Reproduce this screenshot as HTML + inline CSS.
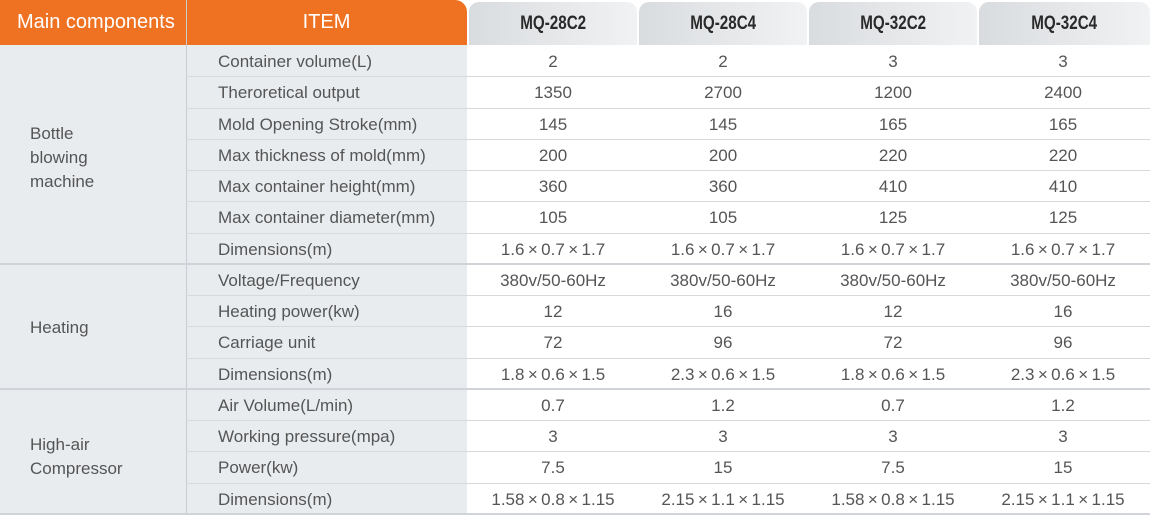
<!DOCTYPE html>
<html><head><meta charset="utf-8"><style>
*{margin:0;padding:0;box-sizing:border-box}
body{width:1150px;height:516px;background:#fff;position:relative;overflow:hidden;font-family:"Liberation Sans",Arial,sans-serif;color:#555}
.a{position:absolute}
.hdr{top:0;height:45px;background:#ef7222;left:0;width:467px;border-top-right-radius:12px}
.hd{color:#fff;font-size:20px;top:11px}
.tab{top:2px;height:43px;border-radius:10px 10px 0 0;background:linear-gradient(90deg,#d9dcdf,#f1f2f3);text-align:center;line-height:43px}
.tab span{display:inline-block;font-weight:bold;font-size:19px;color:#2a2a2a;transform:scaleX(0.8)}
.gray{left:0;top:45px;width:467px;height:469px;background:#e9ecef}
.vl{left:186px;top:0;width:1px;height:514px;background:#c9cdd1}
.row{left:186px;width:964px;height:1px;background:#d6dadd}
.sec{left:0;width:1150px;height:2px;background:#d0d4d8}
.it{left:218px;font-size:17px;line-height:31px}
.v{width:170px;text-align:center;font-size:17px;line-height:31px}
.sl{left:30px;font-size:17px;line-height:24px}
</style></head><body>
<div class="a gray"></div>
<div class="a hdr"></div>
<div class="a vl"></div>
<div class="a hd" style="left:17px">Main components</div>
<div class="a hd" style="left:186px;width:281px;text-align:center">ITEM</div>
<div class="a tab" style="left:469px;width:168px"><span>MQ-28C2</span></div>
<div class="a tab" style="left:639px;width:168px"><span>MQ-28C4</span></div>
<div class="a tab" style="left:809px;width:168px"><span>MQ-32C2</span></div>
<div class="a tab" style="left:979px;width:171px"><span>MQ-32C4</span></div>
<div class="a sl" style="top:122px">Bottle<br>blowing<br>machine</div>
<div class="a sl" style="top:316px">Heating</div>
<div class="a sl" style="top:433px">High-air<br>Compressor</div>
<div id="rows"></div>
<script>
var X="\u2009×\u2009";
function dm(a,b,c){return a+X+b+X+c;}
var d=[["Container volume(L)","2","2","3","3"],["Theroretical output","1350","2700","1200","2400"],["Mold Opening Stroke(mm)","145","145","165","165"],["Max thickness of mold(mm)","200","200","220","220"],["Max container height(mm)","360","360","410","410"],["Max container diameter(mm)","105","105","125","125"],["Dimensions(m)",dm(1.6,0.7,1.7),dm(1.6,0.7,1.7),dm(1.6,0.7,1.7),dm(1.6,0.7,1.7)],["Voltage/Frequency","380v/50-60Hz","380v/50-60Hz","380v/50-60Hz","380v/50-60Hz"],["Heating power(kw)","12","16","12","16"],["Carriage unit","72","96","72","96"],["Dimensions(m)",dm(1.8,0.6,1.5),dm(2.3,0.6,1.5),dm(1.8,0.6,1.5),dm(2.3,0.6,1.5)],["Air Volume(L/min)","0.7","1.2","0.7","1.2"],["Working pressure(mpa)","3","3","3","3"],["Power(kw)","7.5","15","7.5","15"],["Dimensions(m)",dm(1.58,0.8,1.15),dm(2.15,1.1,1.15),dm(1.58,0.8,1.15),dm(2.15,1.1,1.15)]];
var h="",cx=[468,638,808,978];
for(var i=0;i<15;i++){var t=45+i*31.25;
h+='<div class="a it" style="top:'+(t+1)+'px">'+d[i][0]+'</div>';
for(var j=0;j<4;j++)h+='<div class="a v" style="left:'+cx[j]+'px;top:'+(t+1)+'px">'+d[i][j+1]+'</div>';
var b=t+31.25;
if(i==6||i==10||i==14)h+='<div class="a sec" style="top:'+(b-1)+'px"></div>';
else h+='<div class="a row" style="top:'+b+'px"></div>';}
document.getElementById("rows").innerHTML=h;
</script>
</body></html>
